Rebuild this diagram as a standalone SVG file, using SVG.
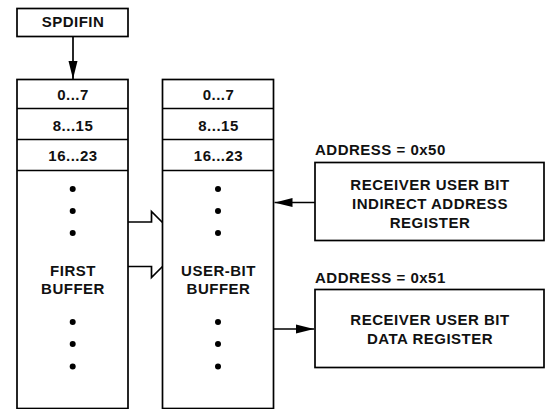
<svg xmlns="http://www.w3.org/2000/svg" width="545" height="409" viewBox="0 0 545 409">
<defs>
<style>
.box{fill:#fff;stroke:#000;stroke-width:1.7}
.ln{fill:none;stroke:#000;stroke-width:1.7}
.t{font-family:"Liberation Sans",Arial,Helvetica,sans-serif;font-weight:bold;font-size:15px;letter-spacing:0.5px;fill:#111}
.c{text-anchor:middle}
.dot{fill:#000}
</style>
<marker id="ahv" viewBox="0 0 18 10" refX="18" refY="5" markerWidth="18" markerHeight="10" markerUnits="userSpaceOnUse" orient="auto">
<path d="M0,0.5 L18,5 L0,9.5 Z" fill="#000"/>
</marker>
</defs>
<rect width="545" height="409" fill="#fff"/>

<g id="spdifin">
<rect class="box" x="17" y="8.5" width="111" height="28"/>
<text class="t c" x="73" y="27">SPDIFIN</text>
</g>

<g id="first-buffer">
<rect class="box" x="17" y="79.5" width="111" height="329"/>
<line class="ln" x1="17" y1="108.5" x2="128" y2="108.5"/>
<line class="ln" x1="17" y1="139.5" x2="128" y2="139.5"/>
<line class="ln" x1="17" y1="170.5" x2="128" y2="170.5"/>
<text class="t c" x="73" y="99.5">0...7</text>
<text class="t c" x="73" y="130.5">8...15</text>
<text class="t c" x="73" y="161">16...23</text>
<circle class="dot" cx="72.7" cy="189" r="3"/>
<circle class="dot" cx="72.7" cy="211" r="3"/>
<circle class="dot" cx="72.7" cy="233" r="3"/>
<text class="t c" x="73" y="276">FIRST</text>
<text class="t c" x="73" y="293.5">BUFFER</text>
<circle class="dot" cx="72.7" cy="322" r="3"/>
<circle class="dot" cx="72.7" cy="344" r="3"/>
<circle class="dot" cx="72.7" cy="366.5" r="3"/>
</g>

<g id="user-bit-buffer">
<rect class="box" x="162.5" y="79.5" width="111" height="329"/>
<line class="ln" x1="162.5" y1="108.5" x2="273.5" y2="108.5"/>
<line class="ln" x1="162.5" y1="139.5" x2="273.5" y2="139.5"/>
<line class="ln" x1="162.5" y1="170.5" x2="273.5" y2="170.5"/>
<text class="t c" x="218.5" y="99.5">0...7</text>
<text class="t c" x="218.5" y="130.5">8...15</text>
<text class="t c" x="218.5" y="161">16...23</text>
<circle class="dot" cx="218" cy="189" r="3"/>
<circle class="dot" cx="218" cy="211" r="3"/>
<circle class="dot" cx="218" cy="233" r="3"/>
<text class="t c" x="218.5" y="276">USER-BIT</text>
<text class="t c" x="218.5" y="293.5">BUFFER</text>
<circle class="dot" cx="218" cy="322" r="3"/>
<circle class="dot" cx="218" cy="344" r="3"/>
<circle class="dot" cx="218" cy="366.5" r="3"/>
</g>

<g id="indirect-address-register">
<text class="t" x="315" y="155">ADDRESS = 0x50</text>
<rect class="box" x="315" y="162.5" width="229" height="78"/>
<text class="t c" x="430" y="190">RECEIVER USER BIT</text>
<text class="t c" x="430" y="209">INDIRECT ADDRESS</text>
<text class="t c" x="430" y="227.5">REGISTER</text>
</g>

<g id="data-register">
<text class="t" x="315" y="282.5">ADDRESS = 0x51</text>
<rect class="box" x="315" y="289.5" width="229" height="78"/>
<text class="t c" x="430" y="325">RECEIVER USER BIT</text>
<text class="t c" x="430" y="343.5">DATA REGISTER</text>
</g>

<g id="connectors">
<line class="ln" x1="73" y1="36.5" x2="73" y2="79" marker-end="url(#ahv)"/>
<polyline class="ln" points="128,222 151.5,222 151.5,211.5 162.5,222.5"/>
<polyline class="ln" points="128,266.5 151.5,266.5 151.5,277.5 162.5,266.5"/>
<line class="ln" x1="315" y1="202.5" x2="274.5" y2="202.5" marker-end="url(#ahv)"/>
<line class="ln" x1="273.5" y1="329" x2="314" y2="329" marker-end="url(#ahv)"/>
</g>
</svg>
